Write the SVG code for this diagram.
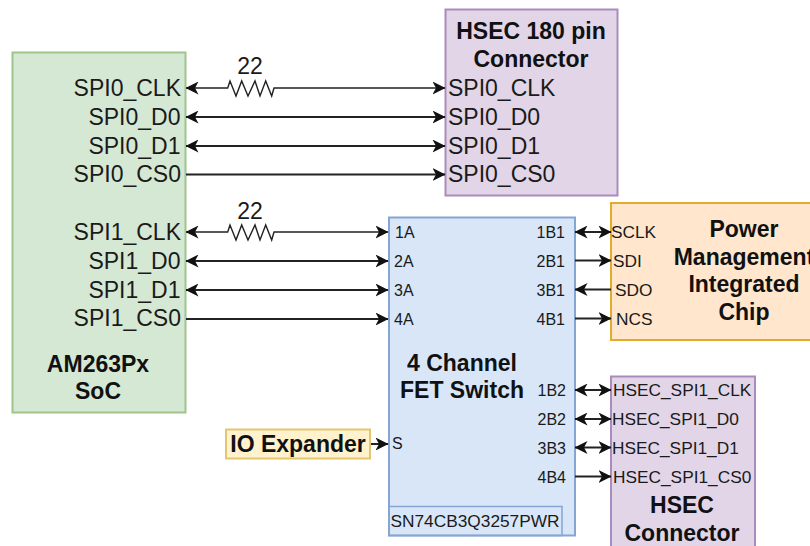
<svg xmlns="http://www.w3.org/2000/svg" width="810" height="546" viewBox="0 0 810 546">
<style>
text{font-family:"Liberation Sans",Arial,sans-serif;fill:#1a1a1a}
.b{font-weight:bold;fill:#111;font-size:23px;text-anchor:middle}
.p{font-size:23px}
.r{text-anchor:end}
.s{font-size:17.300px}
.f{font-size:16px}
.box{stroke-width:2}
.w{fill:none;stroke:#222;stroke-width:2}
.t{fill:none;stroke:#222;stroke-width:1.4}
</style>
<defs>
<marker id="a" viewBox="0 0 13 13" refX="12.500" refY="6.500" markerWidth="13" markerHeight="13" markerUnits="userSpaceOnUse" orient="auto-start-reverse"><path d="M0 0L13 6.500L0 13L3.500 6.500Z" fill="#111"/></marker>
</defs>
<g id="soc">
<rect class="box" x="12.500" y="52.500" width="173" height="360" fill="#d5e8d4" stroke="#9fc48c"/>
<text class="p r" x="181" y="95.500">SPI0_CLK</text>
<text class="p r" x="180.500" y="124.500">SPI0_D0</text>
<text class="p r" x="180.500" y="153.500">SPI0_D1</text>
<text class="p r" x="181" y="181.500">SPI0_CS0</text>
<text class="p r" x="181" y="239.500">SPI1_CLK</text>
<text class="p r" x="180.500" y="268.500">SPI1_D0</text>
<text class="p r" x="180.500" y="297.500">SPI1_D1</text>
<text class="p r" x="181" y="326">SPI1_CS0</text>
<text class="b" x="98" y="372">AM263Px</text>
<text class="b" x="98" y="399">SoC</text>
</g>
<g id="hsec180">
<rect class="box" x="445.500" y="9.500" width="172" height="186" fill="#e1d5e7" stroke="#a98cbc"/>
<text class="b" x="531" y="39">HSEC 180 pin</text>
<text class="b" x="531" y="67">Connector</text>
<text class="p" x="448" y="95.500">SPI0_CLK</text>
<text class="p" x="448" y="124.500">SPI0_D0</text>
<text class="p" x="448" y="153.500">SPI0_D1</text>
<text class="p" x="448" y="181.500">SPI0_CS0</text>
</g>
<g id="fet">
<rect class="box" x="389" y="217.500" width="186" height="318" fill="#d8e6f8" stroke="#85a5d2"/>
<rect x="389" y="506.500" width="173" height="29" fill="none" stroke="#85a5d2" stroke-width="1.500"/>
<text class="f" x="395" y="238">1A</text>
<text class="f" x="394" y="267">2A</text>
<text class="f" x="394" y="296">3A</text>
<text class="f" x="394" y="325">4A</text>
<text class="f r" x="565" y="238">1B1</text>
<text class="f r" x="565" y="267">2B1</text>
<text class="f r" x="565" y="296">3B1</text>
<text class="f r" x="565" y="325">4B1</text>
<text class="f r" x="566" y="396">1B2</text>
<text class="f r" x="566" y="425">2B2</text>
<text class="f r" x="566" y="454">3B3</text>
<text class="f r" x="566" y="483">4B4</text>
<text class="f" x="392" y="449">S</text>
<text class="s" x="390.500" y="527">SN74CB3Q3257PWR</text>
<text class="b" x="462" y="371">4 Channel</text>
<text class="b" x="462" y="398">FET Switch</text>
</g>
<g id="pmic">
<rect class="box" x="611" y="203" width="205" height="137" fill="#ffe6cc" stroke="#e0ac2c"/>
<text class="s" x="611" y="238">SCLK</text>
<text class="s" x="613" y="267">SDI</text>
<text class="s" x="615" y="296">SDO</text>
<text class="s" x="616" y="325">NCS</text>
<text class="b" x="744" y="237">Power</text>
<text class="b" x="744" y="265">Management</text>
<text class="b" x="744" y="292">Integrated</text>
<text class="b" x="744" y="320">Chip</text>
</g>
<g id="hsec">
<rect class="box" x="611" y="376.500" width="144" height="180" fill="#e1d5e7" stroke="#a98cbc"/>
<text class="s" x="613" y="396">HSEC_SPI1_CLK</text>
<text class="s" x="612" y="425">HSEC_SPI1_D0</text>
<text class="s" x="612" y="454">HSEC_SPI1_D1</text>
<text class="s" x="613" y="483">HSEC_SPI1_CS0</text>
<text class="b" x="682" y="513">HSEC</text>
<text class="b" x="682" y="541">Connector</text>
</g>
<g id="io">
<rect class="box" x="226" y="429.500" width="144" height="29" fill="#fff2cc" stroke="#e3c66f"/>
<text class="b" x="298" y="452">IO Expander</text>
</g>
<g id="connectors">
<path class="t" marker-start="url(#a)" marker-end="url(#a)" d="M186 88H227.700L230 81L236 96L241.700 81L248 96L255 81L260 96L265.700 81L271.700 96L274 88H445"/>
<path class="w" marker-start="url(#a)" marker-end="url(#a)" d="M186 117H445"/>
<path class="w" marker-start="url(#a)" marker-end="url(#a)" d="M186 146H445"/>
<path class="w" marker-end="url(#a)" d="M186 174.500H445"/>
<path class="t" marker-start="url(#a)" marker-end="url(#a)" d="M186 232H227.700L230 225L236 240L241.700 225L248 240L255 225L260 240L265.700 225L271.700 240L274 232H388"/>
<path class="w" marker-start="url(#a)" marker-end="url(#a)" d="M186 261H388"/>
<path class="w" marker-start="url(#a)" marker-end="url(#a)" d="M186 290H388"/>
<path class="w" marker-end="url(#a)" d="M186 319H388"/>
<path class="w" marker-end="url(#a)" d="M371 444H388"/>
<path class="w" marker-start="url(#a)" marker-end="url(#a)" d="M575 232H611"/>
<path class="w" marker-end="url(#a)" d="M575 260.500H611"/>
<path class="w" marker-end="url(#a)" d="M611 289.500H575"/>
<path class="w" marker-end="url(#a)" d="M575 318.500H611"/>
<path class="w" marker-start="url(#a)" marker-end="url(#a)" d="M575 390H611"/>
<path class="w" marker-start="url(#a)" marker-end="url(#a)" d="M575 419H611"/>
<path class="w" marker-start="url(#a)" marker-end="url(#a)" d="M575 447.500H611"/>
<path class="w" marker-end="url(#a)" d="M575 476.500H611"/>
</g>
<text x="250" y="74" font-size="23" text-anchor="middle">22</text>
<text x="250" y="218.500" font-size="23" text-anchor="middle">22</text>
</svg>
